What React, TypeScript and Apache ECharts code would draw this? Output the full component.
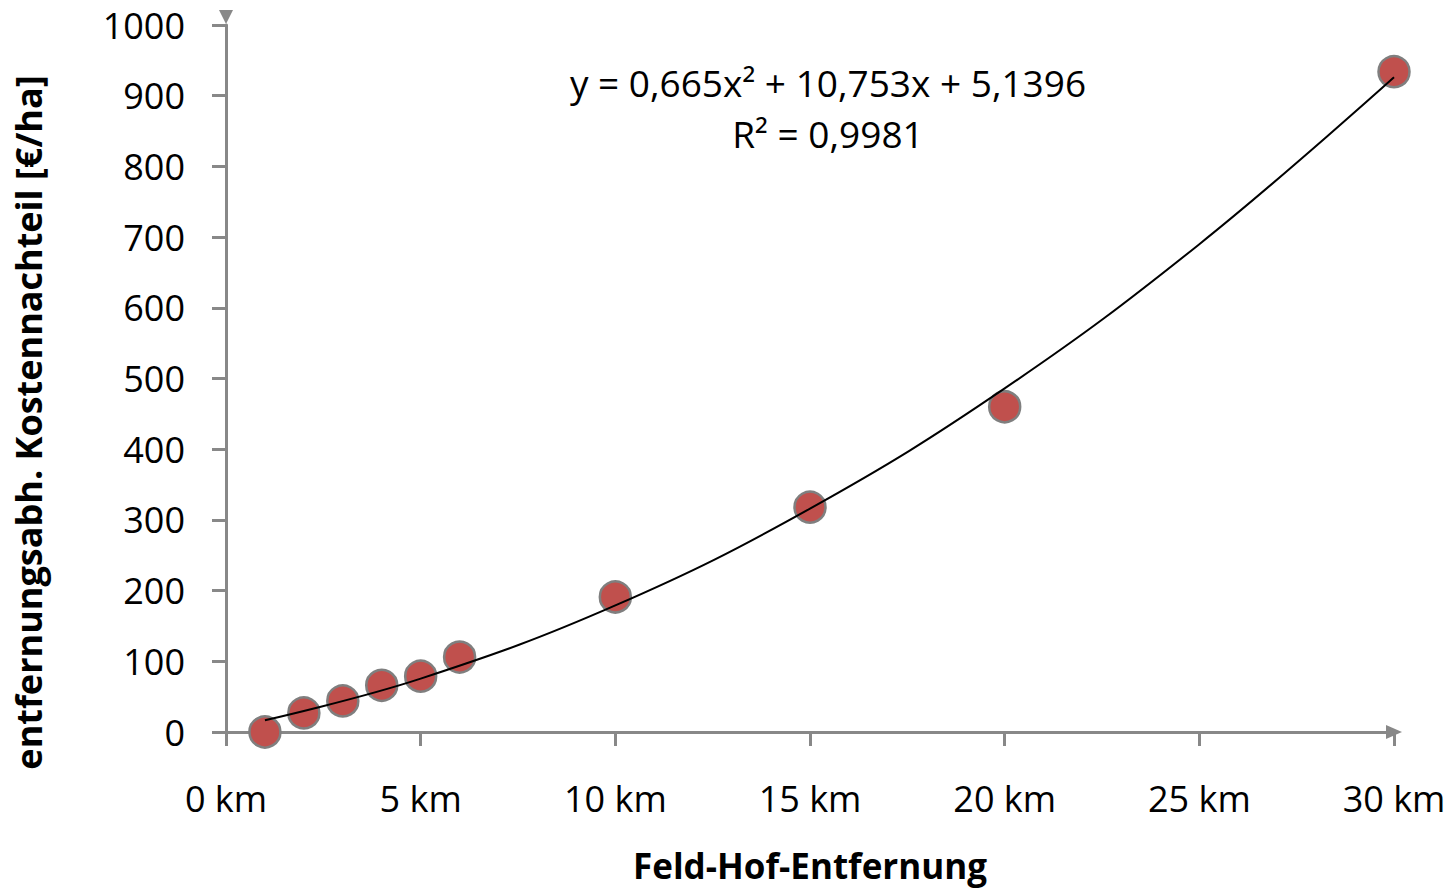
import React, { useEffect, useRef } from "react";
import * as echarts from "echarts";

const distancesKm = [1, 2, 3, 4, 5, 6, 10, 15, 20, 30];
const costPerHa = [0, 27, 44, 66, 79, 106, 191, 318, 460, 934];
const trendX = [1, 5, 10, 15, 20, 25, 30];
const trendY = [16.6, 75.5, 179, 316, 486, 690, 926];
const xTicks = [0, 5, 10, 15, 20, 25, 30];
const equationLine1 = "y = 0,665x² + 10,753x + 5,1396";
const equationLine2 = "R² = 0,9981";
const xTitle = "Feld-Hof-Entfernung";
const yTitle = "entfernungsabh. Kostennachteil [€/ha]";

const FONT = "'Open Sans', 'Liberation Sans', sans-serif";

export default function App() {
  const ref = useRef<HTMLDivElement>(null);
  useEffect(() => {
    if (!ref.current) return;
    const chart = echarts.init(ref.current, null, { renderer: "svg" });
    chart.setOption({
      animation: false,
      backgroundColor: "#ffffff",
      grid: {
        left: 226,
        right: 57,
        top: 25,
        bottom: 158,
        containLabel: false,
        outerBoundsMode: "none",
      },
      xAxis: {
        type: "value",
        min: 0,
        max: 30,
        interval: 5,
        name: xTitle,
        nameLocation: "middle",
        nameGap: 116,
        nameTextStyle: { fontFamily: FONT, fontSize: 35, fontWeight: "bold", color: "#000" },
        axisLine: {
          show: true,
          lineStyle: { color: "#888888", width: 3 },
          symbol: ["none", "triangle"],
          symbolSize: [14, 16],
          symbolOffset: [0, 0],
        },
        axisTick: { show: true, length: 14, lineStyle: { color: "#888888", width: 3 } },
        axisLabel: {
          fontFamily: FONT,
          fontSize: 36,
          color: "#000",
          margin: 48,
          formatter: (v: number) => (xTicks.includes(v) ? `${v} km` : ""),
        },
        splitLine: { show: false },
      },
      yAxis: {
        type: "value",
        min: 0,
        max: 1000,
        interval: 100,
        name: yTitle,
        nameLocation: "middle",
        nameGap: 180,
        nameRotate: 90,
        nameTextStyle: {
          fontFamily: FONT,
          fontSize: 36,
          fontWeight: "bold",
          color: "#000",
          padding: [0, 88, 0, 0],
        },
        axisLine: {
          show: true,
          lineStyle: { color: "#888888", width: 3 },
          symbol: ["none", "path://M0,0 L10,0 L5,10 Z"],
          symbolSize: [16, 14],
          symbolOffset: [0, 8],
        },
        axisTick: { show: true, length: 14, lineStyle: { color: "#888888", width: 3 } },
        axisLabel: {
          fontFamily: FONT,
          fontSize: 36,
          color: "#000",
          margin: 41,
          formatter: (v: number) => String(v),
        },
        splitLine: { show: false },
      },
      series: [
        {
          type: "line",
          data: trendX.map((x, i) => [x, trendY[i]]),
          smooth: 0.4,
          showSymbol: false,
          symbol: "none",
          lineStyle: { color: "#000", width: 2 },
          z: 3,
        },
        {
          type: "scatter",
          data: distancesKm.map((x, i) => [x, costPerHa[i]]),
          symbol: "circle",
          symbolSize: 31,
          itemStyle: { color: "#C0504D", opacity: 1, borderColor: "#7f7f7f", borderWidth: 2.5 },
          z: 2,
        },
      ],
      graphic: [
        {
          type: "text",
          x: 828,
          y: 82,
          style: {
            text: equationLine1,
            align: "center",
            verticalAlign: "middle",
            fontFamily: FONT,
            fontSize: 37,
            fill: "#000",
          },
        },
        {
          type: "text",
          x: 828,
          y: 133,
          style: {
            text: equationLine2,
            align: "center",
            verticalAlign: "middle",
            fontFamily: FONT,
            fontSize: 37,
            fill: "#000",
          },
        },
      ],
    });
    return () => chart.dispose();
  }, []);
  return (
    <div
      ref={ref}
      style={{ position: "fixed", left: 0, top: 0, width: 1451, height: 890, background: "#fff" }}
    />
  );
}
